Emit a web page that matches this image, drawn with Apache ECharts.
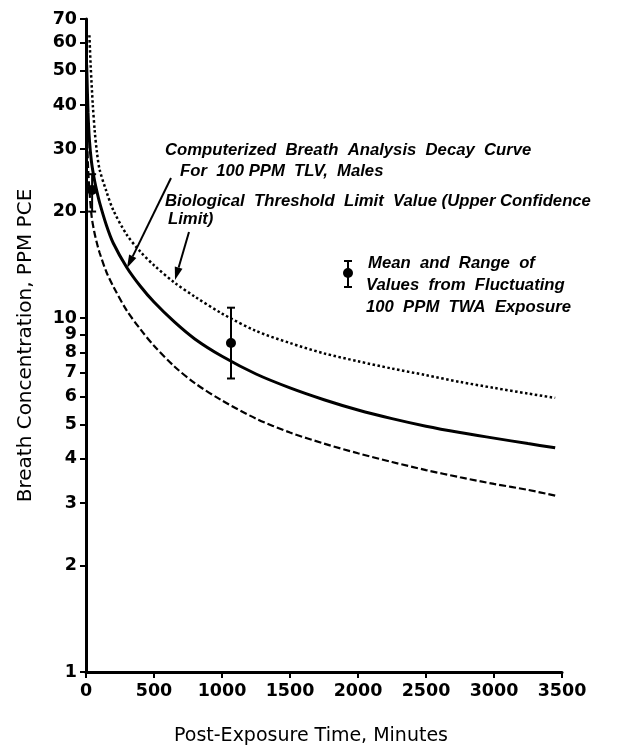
<!DOCTYPE html>
<html><head><meta charset="utf-8">
<script src="https://cdn.jsdelivr.net/npm/echarts@6/dist/echarts.min.js"></script>
<style>html,body{margin:0;padding:0;background:#fff}#c{width:619px;height:753px}</style>
</head><body><div id="c"></div>
<script>
// Computerized breath analysis decay curve (solid)
const solidT = [5, 15, 25, 40, 60, 80, 100, 150, 200, 300, 400, 500, 650, 800, 1000, 1250, 1500, 1750, 2000, 2250, 2500, 2750, 3000, 3250, 3450];
const solidV = [52, 38, 31.9, 27.7, 24.8, 22.8, 21.2, 18.3, 16.3, 13.9, 12.3, 11.1, 9.75, 8.73, 7.8, 6.95, 6.35, 5.88, 5.5, 5.2, 4.95, 4.75, 4.58, 4.42, 4.3];
// Biological threshold limit value, upper confidence limit (dotted)
const dottedT = [25, 35, 50, 65, 80, 100, 150, 200, 300, 400, 500, 650, 800, 1000, 1250, 1500, 1750, 2000, 2250, 2500, 2750, 3000, 3250, 3450];
const dottedV = [63, 51, 40, 33.5, 29.5, 26.3, 22.8, 20.2, 17.2, 15.4, 14.1, 12.6, 11.5, 10.3, 9.2, 8.5, 7.95, 7.55, 7.2, 6.9, 6.6, 6.35, 6.12, 5.95];
// Lower curve (dashed)
const dashedT = [5, 15, 25, 42, 60, 80, 100, 150, 200, 300, 400, 500, 650, 800, 1000, 1250, 1500, 1750, 2000, 2250, 2500, 2750, 3000, 3250, 3450];
const dashedV = [36, 26.8, 23, 19.3, 17.6, 16.3, 15.3, 13.5, 12.3, 10.5, 9.3, 8.35, 7.3, 6.55, 5.85, 5.2, 4.75, 4.42, 4.15, 3.92, 3.72, 3.55, 3.4, 3.27, 3.15];
// Mean and range of values from fluctuating 100 PPM TWA exposure
const errT = [45, 1066];
const errMean = [23, 8.5];
const errLow = [20, 6.75];
const errHigh = [25.5, 10.7];
// Axis ticks
const yTicks = [1, 2, 3, 4, 5, 6, 7, 8, 9, 10, 20, 30, 40, 50, 60, 70];
const xMin = 0, xMax = 3500, xStep = 500;

function pairs(t, v) { return t.map((x, i) => [x, v[i]]); }

const chart = echarts.init(document.getElementById('c'), null, {renderer: 'canvas'});
const tickFont = {fontFamily: 'DejaVu Sans', fontWeight: 'bold', fontSize: 17.5, color: '#000'};
const noteFont = {fontFamily: 'Liberation Sans', fontWeight: 'bold', fontStyle: 'italic', fontSize: 16.7, fill: '#000'};

function arrow(x1, y1, x2, y2) {
  const dx = x2 - x1, dy = y2 - y1, L = Math.hypot(dx, dy);
  const ux = dx / L, uy = dy / L, px = -uy, py = ux;
  const hl = 13, hw = 4;
  const bx = x2 - ux * hl, by = y2 - uy * hl;
  return [
    {type: 'line', shape: {x1: x1, y1: y1, x2: bx, y2: by}, style: {stroke: '#000', lineWidth: 2}},
    {type: 'polygon', shape: {points: [[x2, y2], [bx + px * hw, by + py * hw], [bx - px * hw, by - py * hw]]}, style: {fill: '#000'}}
  ];
}

function txt(x, y, s) {
  return {type: 'text', x: x, y: y, style: Object.assign({text: s, textVerticalAlign: 'middle', textAlign: 'left'}, noteFont)};
}

const option = {
  animation: false,
  backgroundColor: '#fff',
  grid: {left: 86, right: 57, top: 19, bottom: 81, outerBoundsMode: 'none'},
  xAxis: {
    type: 'value', min: xMin, max: xMax, interval: xStep,
    name: 'Post-Exposure Time, Minutes', nameLocation: 'middle', nameGap: 55,
    nameTextStyle: {fontFamily: 'DejaVu Sans', fontSize: 19, color: '#000', padding: [0, 26, 0, 0]},
    axisLine: {show: true, lineStyle: {color: '#000', width: 3}},
    axisTick: {show: true, length: 6, lineStyle: {color: '#000', width: 2}},
    axisLabel: Object.assign({margin: 10, formatter: function (v) { return String(v); }}, tickFont),
    splitLine: {show: false}
  },
  yAxis: {
    type: 'log', logBase: 10, min: 1, max: 70,
    name: 'Breath Concentration, PPM PCE', nameLocation: 'middle', nameGap: 50, nameRotate: 90,
    nameTextStyle: {fontFamily: 'DejaVu Sans', fontSize: 20, color: '#000'},
    axisLine: {show: true, lineStyle: {color: '#000', width: 3}},
    axisTick: {show: true, length: 6, customValues: yTicks, lineStyle: {color: '#000', width: 2}},
    axisLabel: Object.assign({margin: 9, customValues: yTicks, formatter: function (v) { return String(v); }}, tickFont),
    minorTick: {show: false},
    splitLine: {show: false}
  },
  series: [
    {type: 'line', name: 'Computerized', data: pairs(solidT, solidV), smooth: 0.3, showSymbol: false,
     lineStyle: {color: '#000', width: 3}},
    {type: 'line', name: 'BTLV upper', data: pairs(dottedT, dottedV), smooth: 0.3, showSymbol: false,
     lineStyle: {color: '#000', width: 2.5, type: [2.5, 2.5]}},
    {type: 'line', name: 'Lower', data: pairs(dashedT, dashedV), smooth: 0.3, showSymbol: false,
     lineStyle: {color: '#000', width: 2.2, type: [7, 3]}},
    {type: 'custom', name: 'Mean and range', z: 10,
     data: errT.map((t, i) => [t, errMean[i], errLow[i], errHigh[i]]),
     encode: {x: 0, y: 1},
     renderItem: function (params, api) {
       const x = api.value(0);
       const pm = api.coord([x, api.value(1)]);
       const pl = api.coord([x, api.value(2)]);
       const ph = api.coord([x, api.value(3)]);
       const c = 4;
       return {type: 'group', children: [
         {type: 'line', shape: {x1: pl[0], y1: pl[1], x2: ph[0], y2: ph[1]}, style: {stroke: '#000', lineWidth: 2}},
         {type: 'line', shape: {x1: pl[0] - c, y1: pl[1], x2: pl[0] + c, y2: pl[1]}, style: {stroke: '#000', lineWidth: 2}},
         {type: 'line', shape: {x1: ph[0] - c, y1: ph[1], x2: ph[0] + c, y2: ph[1]}, style: {stroke: '#000', lineWidth: 2}},
         {type: 'circle', shape: {cx: pm[0], cy: pm[1], r: 5}, style: {fill: '#000'}}
       ]};
     }}
  ],
  graphic: [
    txt(165, 150, 'Computerized  Breath  Analysis  Decay  Curve'),
    txt(180, 171, 'For  100 PPM  TLV,  Males'),
    txt(165, 201, 'Biological  Threshold  Limit  Value (Upper Confidence'),
    txt(168, 219, 'Limit)'),
    txt(368, 263, 'Mean  and  Range  of'),
    txt(366, 285, 'Values  from  Fluctuating'),
    txt(366, 307, '100  PPM  TWA  Exposure'),
    {type: 'line', shape: {x1: 348, y1: 261, x2: 348, y2: 287}, style: {stroke: '#000', lineWidth: 2}},
    {type: 'line', shape: {x1: 344, y1: 261, x2: 352, y2: 261}, style: {stroke: '#000', lineWidth: 2}},
    {type: 'line', shape: {x1: 344, y1: 287, x2: 352, y2: 287}, style: {stroke: '#000', lineWidth: 2}},
    {type: 'circle', shape: {cx: 348, cy: 273, r: 5}, style: {fill: '#000'}}
  ].concat(arrow(171, 178, 127, 268), arrow(189, 232, 175, 280))
};
chart.setOption(option);
</script>
</body></html>
